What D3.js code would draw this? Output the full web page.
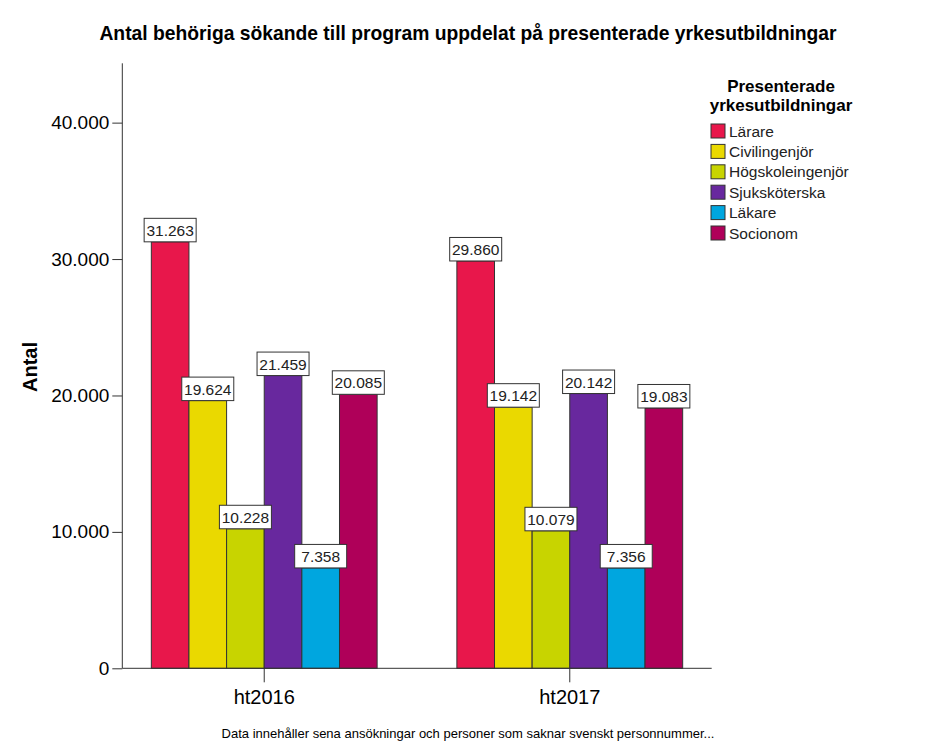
<!DOCTYPE html>
<html><head><meta charset="utf-8">
<script src="https://cdn.jsdelivr.net/npm/d3@7"></script>
<style>body{margin:0;background:#fff}svg{display:block}text{font-family:Arial,"Liberation Sans",sans-serif}</style>
</head><body>
<script>
const groups = ["ht2016","ht2017"];
const series = ["Lärare","Civilingenjör","Högskoleingenjör","Sjuksköterska","Läkare","Socionom"];
const values2016 = [31263,19624,10228,21459,7358,20085];
const values2017 = [29860,19142,10079,20142,7356,19083];
const colors = ["#E8174B","#EAD900","#C8D400","#68289E","#00A6DF","#AF0059"];
const yTicks = [0,10000,20000,30000,40000];
const title = "Antal behöriga sökande till program uppdelat på presenterade yrkesutbildningar";
const yTitle = "Antal";
const legendTitle = ["Presenterade","yrkesutbildningar"];
const footnote = "Data innehåller sena ansökningar och personer som saknar svenskt personnummer...";

const W=937,H=750;
const svg=d3.select("body").append("svg").attr("width",W).attr("height",H);
const fmt = v => d3.format(",")(v).replace(/,/g,".");

const y=d3.scaleLinear().domain([0,44350]).range([668.3,63.3]);
const x0=d3.scaleBand().domain(groups).range([122.3,711.7]).paddingInner(0.261).paddingOuter(0.095);
const x1=d3.scaleBand().domain(series).range([0,x0.bandwidth()]);
const data=[values2016,values2017];

svg.append("text").attr("x",468).attr("y",40).attr("text-anchor","middle")
  .attr("font-weight","bold").attr("font-size","19.3px").text(title);

// bars
groups.forEach((g,gi)=>{
  const gg=svg.append("g");
  series.forEach((s,si)=>{
    const v=data[gi][si];
    gg.append("rect").attr("x",x0(g)+x1(s)).attr("y",y(v))
      .attr("width",x1.bandwidth()).attr("height",y(0)-y(v))
      .attr("fill",colors[si]).attr("stroke","#333").attr("stroke-width",1);
  });
});
// labels
groups.forEach((g,gi)=>{
  series.forEach((s,si)=>{
    const v=data[gi][si];
    const cx=x0(g)+x1(s)+x1.bandwidth()/2;
    svg.append("rect").attr("x",cx-26).attr("y",y(v)-23.5)
      .attr("width",52).attr("height",23.5).attr("fill","#fff").attr("stroke","#333").attr("stroke-width",1);
    svg.append("text").attr("x",cx).attr("y",y(v)-6).attr("text-anchor","middle")
      .attr("font-size","15.5px").attr("fill","#222").text(fmt(v));
  });
});

// y axis
const ya=svg.append("g").attr("transform","translate(122.3,0)")
  .call(d3.axisLeft(y).tickValues(yTicks).tickSize(10).tickPadding(3).tickFormat(fmt));
ya.select(".domain").attr("d",`M0,${y(0)}V63.3`).attr("stroke","#333");
ya.selectAll(".tick line").attr("stroke","#333");
ya.selectAll(".tick text").attr("font-size","19px").attr("fill","#000").style("font-family","Arial,'Liberation Sans',sans-serif");

// x axis
const xa=svg.append("g").attr("transform",`translate(0,${y(0)})`)
  .call(d3.axisBottom(x0).tickSize(14).tickPadding(8));
xa.select(".domain").attr("d","M122.3,0H711.7").attr("stroke","#333");
xa.selectAll(".tick line").attr("stroke","#333");
xa.selectAll(".tick text").attr("font-size","20px").attr("fill","#000").style("font-family","Arial,'Liberation Sans',sans-serif");

svg.append("text").attr("transform","translate(37,367) rotate(-90)").attr("text-anchor","middle")
  .attr("font-weight","bold").attr("font-size","20px").text(yTitle);

// legend
legendTitle.forEach((t,i)=>svg.append("text").attr("x",781).attr("y",92+i*19).attr("text-anchor","middle")
  .attr("font-weight","bold").attr("font-size","17px").text(t));
series.forEach((s,i)=>{
  const yy=124+i*20.4;
  svg.append("rect").attr("x",711).attr("y",yy).attr("width",14).attr("height",14)
    .attr("fill",colors[i]).attr("stroke","#333").attr("stroke-width",1);
  svg.append("text").attr("x",729).attr("y",yy+12.5).attr("font-size","15.5px").attr("fill","#222").text(s);
});

svg.append("text").attr("x",468).attr("y",738).attr("text-anchor","middle")
  .attr("font-size","13px").attr("fill","#000").text(footnote);
</script>
</body></html>
